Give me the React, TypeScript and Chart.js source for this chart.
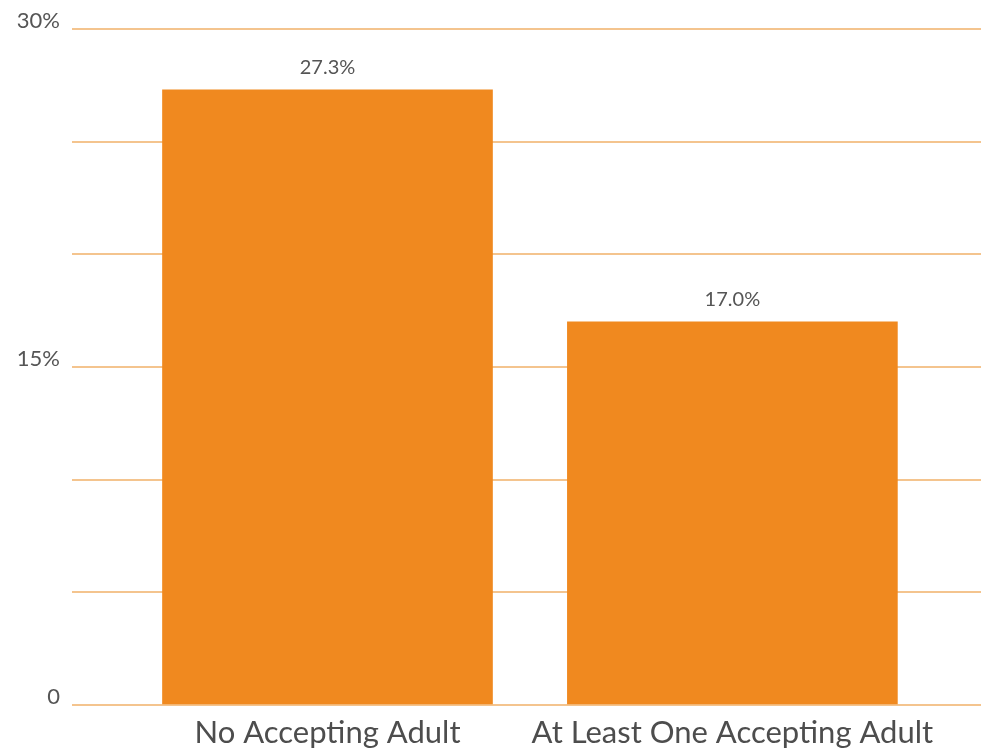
import React, { useEffect, useRef } from "react";
import { Chart, registerables } from "chart.js";

Chart.register(...registerables);

const categories: string[] = ["No Accepting Adult", "At Least One Accepting Adult"];
const values: number[] = [27.3, 17.0];
const valueLabels: string[] = ["27.3%", "17.0%"];
const yTickLabels: Record<number, string> = { 0: "0", 15: "15%", 30: "30%" };

const FONT = "Lato, 'Open Sans', sans-serif";
const TEXT = "#555555";
const BAR = "#f0891f";
const GRID = "#f4c48e";

const valueLabelPlugin = {
  id: "valueLabels",
  afterDatasetsDraw(chart: any) {
    const { ctx } = chart;
    const meta = chart.getDatasetMeta(0);
    ctx.save();
    ctx.font = `20px ${FONT}`;
    ctx.fillStyle = TEXT;
    ctx.textAlign = "center";
    ctx.textBaseline = "alphabetic";
    meta.data.forEach((el: any, i: number) => {
      ctx.fillText(valueLabels[i], el.x, el.y - 16);
    });
    ctx.restore();
  },
};

export default function App() {
  const ref = useRef<HTMLCanvasElement | null>(null);
  useEffect(() => {
    if (!ref.current) return;
    const chart = new Chart(ref.current, {
      type: "bar",
      data: {
        datasets: [
          {
            data: values.map((v, i) => ({ x: i, y: v })),
            backgroundColor: BAR,
            borderWidth: 0,
            barThickness: 330,
            grouped: false,
          },
        ],
      },
      options: {
        animation: false,
        responsive: true,
        maintainAspectRatio: false,
        layout: { padding: { top: 29, left: 0, right: 0, bottom: 0 } },
        plugins: { legend: { display: false }, tooltip: { enabled: false } },
        scales: {
          x: {
            type: "linear",
            min: -0.631,
            max: 1.614,
            offset: false,
            grid: { display: false, offset: false },
            border: { display: false },
            afterBuildTicks: (scale: any) => {
              scale.ticks = categories.map((_, i) => ({ value: i }));
            },
            afterFit: (scale: any) => {
              scale.height = 43;
            },
            ticks: {
              autoSkip: false,
              maxRotation: 0,
              padding: 1,
              color: "#4d4d4d",
              font: { family: FONT, size: 31 },
              callback: (v: any) => categories[Math.round(Number(v))] ?? "",
            },
          },
          y: {
            min: 0,
            max: 30,
            grid: { color: GRID, lineWidth: 2, drawTicks: false },
            border: { display: false },
            afterFit: (scale: any) => {
              scale.width = 72;
            },
            ticks: {
              stepSize: 5,
              padding: 12,
              labelOffset: -8,
              color: TEXT,
              font: { family: FONT, size: 22 },
              callback: (v: any) => yTickLabels[Number(v)] ?? "",
            },
          },
        },
      },
      plugins: [valueLabelPlugin],
    });
    return () => chart.destroy();
  }, []);
  return (
    <div style={{ position: "absolute", left: 0, top: 0, width: 981, height: 748, background: "#fff" }}>
      <canvas ref={ref} />
    </div>
  );
}
